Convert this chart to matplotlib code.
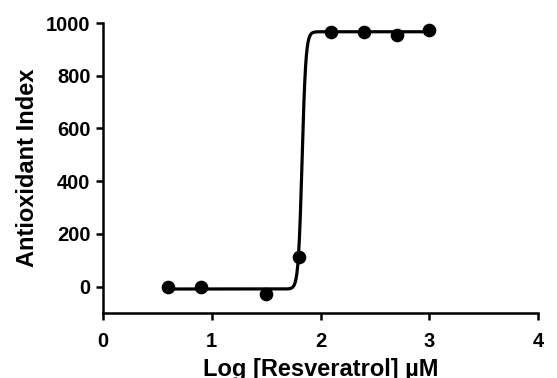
import numpy as np
import matplotlib
matplotlib.use("Agg")
import matplotlib.pyplot as plt

plt.rcParams['font.family'] = ['Liberation Sans', 'DejaVu Sans']
plt.rcParams['font.weight'] = 'bold'

log_conc = [0.6, 0.9, 1.5, 1.8, 2.1, 2.4, 2.7, 3.0]
antiox_index = [0, -3, -27, 114, 967, 966, 955, 972]

# fitted sigmoidal dose-response parameters
fit_bottom = -9
fit_top = 967
fit_logec50 = 1.83
fit_hill = 25

x_ticks = [0, 1, 2, 3, 4]
y_ticks = [0, 200, 400, 600, 800, 1000]

fig = plt.figure(figsize=(5.57, 3.78), dpi=100)
ax = fig.add_axes([0.185, 0.172, 0.781, 0.767])

xf = np.linspace(min(log_conc), max(log_conc), 600)
yf = fit_bottom + (fit_top - fit_bottom) / (1 + 10 ** ((fit_logec50 - xf) * fit_hill))
ax.plot(xf, yf, color='black', lw=2.3, zorder=2)
ax.plot(log_conc, antiox_index, 'o', color='black', ms=8.8, zorder=3, clip_on=False)

ax.set_xlim(0, 4)
ax.set_ylim(-100, 1000)
ax.set_xticks(x_ticks)
ax.set_yticks(y_ticks)
for s in ['top', 'right']:
    ax.spines[s].set_visible(False)
for s in ['left', 'bottom']:
    ax.spines[s].set_linewidth(1.8)
ax.tick_params(axis='both', width=1.8, length=5, labelsize=14.5)
ax.tick_params(axis='x', pad=9)
ax.tick_params(axis='y', pad=4)
for lab in ax.get_xticklabels() + ax.get_yticklabels():
    lab.set_fontweight('bold')
ax.set_xlabel('Log [Resveratrol] µM', fontsize=17, fontweight='bold', labelpad=5)
ax.set_ylabel('Antioxidant Index', fontsize=17, fontweight='bold', labelpad=5)

fig.savefig('out.png', dpi=100)
